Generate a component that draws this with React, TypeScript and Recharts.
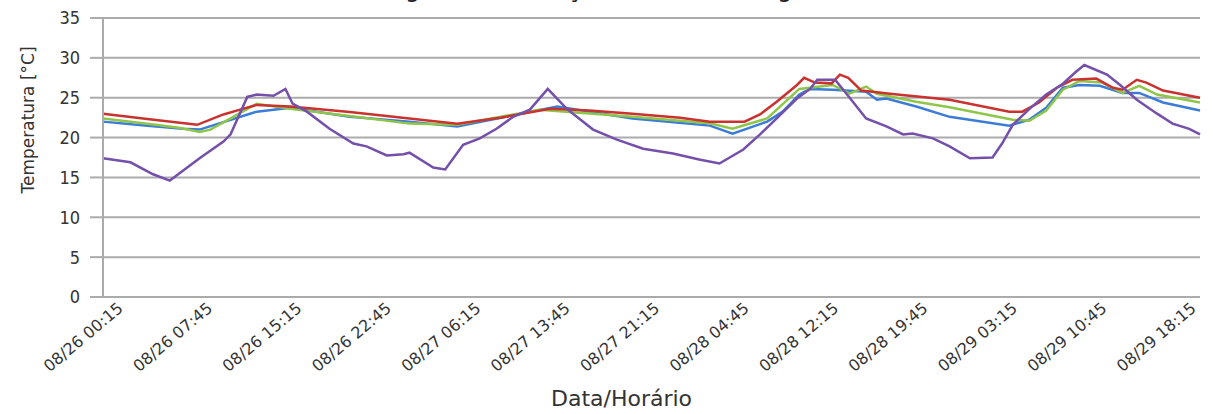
import React from 'react';
import { LineChart, Line, XAxis, YAxis, CartesianGrid } from 'recharts';

// x tick labels (every 7.5 hours, starting 08/26 00:15)
const tickLabels = [
  '08/26 00:15', '08/26 07:45', '08/26 15:15', '08/26 22:45', '08/27 06:15',
  '08/27 13:45', '08/27 21:15', '08/28 04:45', '08/28 12:15', '08/28 19:45',
  '08/29 03:15', '08/29 10:45', '08/29 18:15',
];
const tickHours = [0, 7.5, 15, 22.5, 30, 37.5, 45, 52.5, 60, 67.5, 75, 82.5, 90];
const yTicks = [0, 5, 10, 15, 20, 25, 30, 35];

// hours since 08/26 00:15 and temperatures [°C]
const redHours = [0, 3.9, 7.9, 10.1, 11.5, 12.9, 15.7, 20.7, 25.7, 29.7, 33.3, 37.5, 40.8, 44.4, 48.4, 50.9, 53.8, 55.1, 56.5, 58.2, 58.8, 59.7, 61.1, 61.8, 62.5, 63.6, 66.0, 71.0, 76.0, 77.1, 78.5, 80.0, 81.3, 83.3, 84.7, 85.5, 86.7, 87.5, 88.9, 92.0];
const redTemps = [23.0, 22.3, 21.6, 22.9, 23.5, 24.1, 23.9, 23.2, 22.4, 21.75, 22.5, 23.6, 23.4, 23.0, 22.5, 22.0, 22.0, 22.9, 24.5, 26.6, 27.5, 26.9, 26.8, 27.9, 27.5, 25.9, 25.5, 24.75, 23.25, 23.25, 24.4, 26.25, 27.25, 27.4, 26.25, 26.0, 27.25, 26.9, 25.9, 25.0];

const greenHours = [0, 3.9, 6.5, 8.1, 9.0, 10.7, 12.9, 15.7, 20.7, 25.7, 29.7, 36.6, 44.4, 50.9, 52.8, 55.7, 58.4, 61.2, 62.6, 64.0, 64.9, 68.2, 71.0, 76.3, 77.7, 79.1, 80.5, 81.9, 83.8, 85.5, 86.9, 88.4, 92.0];
const greenTemps = [22.4, 21.7, 21.2, 20.7, 21.0, 22.4, 24.25, 23.6, 22.7, 21.75, 21.6, 23.5, 22.6, 21.8, 21.1, 22.4, 26.1, 26.6, 25.5, 26.4, 25.5, 24.5, 23.8, 22.25, 22.1, 23.4, 26.0, 27.1, 26.9, 25.6, 26.5, 25.4, 24.4];

const blueHours = [0, 3.5, 6.7, 8.1, 12.9, 15.7, 20.7, 25.7, 29.7, 38.1, 44.4, 50.9, 52.8, 55.7, 57.0, 58.4, 59.3, 61.2, 64.0, 64.9, 65.7, 68.2, 71.0, 76.0, 77.7, 79.1, 80.5, 81.9, 83.6, 85.5, 86.9, 88.9, 92.0];
const blueTemps = [22.0, 21.5, 21.1, 21.0, 23.25, 23.75, 22.6, 22.0, 21.4, 23.9, 22.4, 21.5, 20.5, 22.0, 23.25, 25.4, 26.1, 26.0, 25.75, 24.75, 24.9, 23.9, 22.6, 21.5, 22.25, 23.75, 26.25, 26.6, 26.5, 25.6, 25.6, 24.4, 23.4];

const purpleHours = [0, 2.3, 4.2, 5.6, 8.1, 10.1, 10.7, 12.1, 12.9, 14.3, 15.3, 15.9, 17.1, 19.0, 21.0, 22.1, 23.8, 25.2, 25.7, 27.7, 28.7, 30.2, 31.6, 33.0, 34.4, 35.8, 37.3, 38.9, 41.1, 43.1, 45.3, 47.8, 50.0, 51.7, 53.7, 55.1, 56.5, 58.2, 59.3, 59.9, 61.4, 62.4, 64.0, 65.7, 67.1, 67.9, 69.6, 71.0, 72.7, 74.6, 75.4, 76.3, 77.7, 79.1, 80.5, 81.6, 82.3, 84.2, 85.3, 86.7, 88.4, 89.7, 91.1, 92.0];
const purpleTemps = [17.4, 16.9, 15.4, 14.6, 17.4, 19.5, 20.4, 25.1, 25.4, 25.25, 26.1, 24.25, 23.25, 21.1, 19.25, 18.9, 17.75, 17.9, 18.1, 16.25, 16.0, 19.1, 19.9, 21.1, 22.6, 23.5, 26.1, 23.6, 21.0, 19.75, 18.6, 18.0, 17.25, 16.75, 18.5, 20.4, 22.4, 24.9, 26.1, 27.25, 27.25, 25.4, 22.4, 21.4, 20.4, 20.5, 19.9, 18.9, 17.4, 17.5, 19.25, 21.6, 23.6, 25.4, 26.75, 28.25, 29.1, 27.9, 26.6, 24.75, 23.0, 21.75, 21.1, 20.4];

const toPoints = (hs: number[], vs: number[]) => hs.map((h, i) => ({ h, v: vs[i] }));
const redData = toPoints(redHours, redTemps);
const greenData = toPoints(greenHours, greenTemps);
const blueData = toPoints(blueHours, blueTemps);
const purpleData = toPoints(purpleHours, purpleTemps);

const FONT = '"DejaVu Sans", Verdana, sans-serif';
const NUMFONT = '"DejaVu Sans Condensed", "Liberation Sans Narrow", "DejaVu Sans", sans-serif';
const GRID = '#ababab';

const XTick = (props: any) => {
  const { x, y, payload } = props;
  const idx = tickHours.indexOf(payload.value);
  return (
    <g transform={`translate(${x + 21},${y + 5})`}>
      <text textAnchor="end" transform="rotate(-40)" fontSize={16} fill="#333" fontFamily={FONT}>
        {tickLabels[idx]}
      </text>
    </g>
  );
};

const YLabel = () => (
  <text x={34} y={120} transform="rotate(-90 34 120)" textAnchor="middle" fontSize={17} fill="#333" fontFamily={FONT}>
    Temperatura [°C]
  </text>
);

const XLabel = (props: any) => {
  const vb = props.viewBox || { x: 103, width: 1097 };
  return (
    <text x={vb.x + vb.width / 2 - 30} y={406} textAnchor="middle" fontSize={22} fill="#333" fontFamily={FONT}>
      Data/Horário
    </text>
  );
};

export default function App() {
  return (
    <div style={{ position: 'absolute', left: 0, top: 0, width: 1213, height: 414, background: '#fff', overflow: 'hidden' }}>
      <svg width={1213} height={30} style={{ position: 'absolute', left: 0, top: 0, pointerEvents: 'none' }}>
        <text x={615} y={-3} textAnchor="middle" fontSize={24} fill="#222" fontFamily={FONT}>
          Figura 3 - Variação térmica em agosto
        </text>
      </svg>
      <LineChart width={1213} height={414} margin={{ top: 18, right: 13, left: 0, bottom: 0 }}>
        <CartesianGrid vertical={false} stroke={GRID} strokeWidth={2} />
        <XAxis
          type="number"
          dataKey="h"
          domain={[0, 92]}
          ticks={tickHours}
          interval={0}
          tick={<XTick />}
          tickLine={false}
          axisLine={{ stroke: GRID, strokeWidth: 2 }}
          height={117}
          label={<XLabel />}
        />
        <YAxis
          type="number"
          domain={[0, 35]}
          ticks={yTicks}
          interval={0}
          width={103}
          tickSize={13}
          tickMargin={10}
          tickLine={{ stroke: GRID, strokeWidth: 2 }}
          axisLine={{ stroke: GRID, strokeWidth: 2 }}
          tick={{ fontSize: 18, fill: '#333', fontFamily: NUMFONT }}
          label={<YLabel />}
        />
        <Line data={blueData} dataKey="v" type="linear" stroke="#3b7dd6" strokeWidth={2.5} dot={false} isAnimationActive={false} />
        <Line data={greenData} dataKey="v" type="linear" stroke="#8fc64a" strokeWidth={2.5} dot={false} isAnimationActive={false} />
        <Line data={redData} dataKey="v" type="linear" stroke="#c9322f" strokeWidth={2.5} dot={false} isAnimationActive={false} />
        <Line data={purpleData} dataKey="v" type="linear" stroke="#7450aa" strokeWidth={2.5} dot={false} isAnimationActive={false} />
      </LineChart>
    </div>
  );
}
